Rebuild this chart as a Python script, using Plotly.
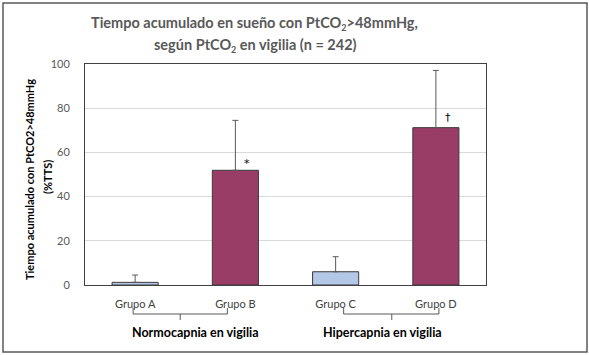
import plotly.graph_objects as go

categories = ["Grupo A", "Grupo B", "Grupo C", "Grupo D"]
means = [1.2, 51.9, 6.0, 71.2]
sd_up = [3.3, 22.6, 6.8, 25.9]
colors = ["#B4C7E7", "#993D66", "#B4C7E7", "#993D66"]
groups = ["Normocapnia en vigilia", "Hipercapnia en vigilia"]
sig_marks = [("Grupo B", "*", 55.0), ("Grupo D", "†", 76.0)]
y_ticks = [0, 20, 40, 60, 80, 100]

FONT = "Lato"

fig = go.Figure()
fig.add_trace(go.Bar(
    x=list(range(len(categories))), y=means,
    marker=dict(color=colors, line=dict(color="#3A3A3A", width=1)),
    error_y=dict(type="data", symmetric=False, array=sd_up,
                 arrayminus=[0] * len(means), color="#595959",
                 thickness=1, width=3),
    width=0.46, showlegend=False, hoverinfo="skip",
))

W, H = 589, 355
L, R, T, B = 85, 103, 64, 70

fig.update_layout(
    width=W, height=H,
    margin=dict(l=L, r=R, t=T, b=B),
    paper_bgcolor="white", plot_bgcolor="white",
    font=dict(family=FONT, color="#404040"),
    xaxis=dict(
        range=[-0.5, 3.5], tickmode="array",
        tickvals=list(range(len(categories))), ticktext=categories,
        showline=True, linecolor="#404040", linewidth=1, mirror=True,
        showgrid=False, ticks="", tickfont=dict(size=11, color="#404040"),
        ticklabelstandoff=9, fixedrange=True,
    ),
    yaxis=dict(
        range=[0, 100], tickmode="array", tickvals=y_ticks,
        showline=True, linecolor="#404040", linewidth=1, mirror=True,
        showgrid=True, gridcolor="#D9D9D9", gridwidth=1, zeroline=False,
        ticks="", tickfont=dict(size=11, color="#595959"),
        ticklabelstandoff=12, fixedrange=True,
    ),
)

# outer chart border
fig.add_shape(type="rect", xref="paper", yref="paper",
              x0=(3 - L) / (W - L - R), x1=(587 - L) / (W - L - R),
              y0=(H - B - 352) / (H - T - B), y1=(H - B - 3) / (H - T - B),
              line=dict(color="#595959", width=1.5), layer="below")

ph = H - T - B
def py(pix):
    return (H - B - pix) / ph

SUB2 = "<sub><span style='font-size:9px'>2</span></sub>"

# title
fig.add_annotation(text="<b>Tiempo acumulado en sueño con PtCO" + SUB2 + ">48mmHg,</b>",
                   xref="paper", yref="paper", x=(254 - L) / (W - L - R), y=py(23),
                   showarrow=False, font=dict(size=14.5, color="#595959", family=FONT),
                   xanchor="center", yanchor="middle")
fig.add_annotation(text="<b>según PtCO" + SUB2 + " en vigilia (n = 242)</b>",
                   xref="paper", yref="paper", x=(255 - L) / (W - L - R), y=py(45),
                   showarrow=False, font=dict(size=14.5, color="#595959", family=FONT),
                   xanchor="center", yanchor="middle")

# y-axis title (two lines)
fig.add_annotation(text="<b>Tiempo acumulado con PtCO2>48mmHg</b>", textangle=-90,
                   xref="paper", yref="paper", x=(29 - L) / (W - L - R), y=py(180),
                   showarrow=False, font=dict(size=11, color="#000000", family=FONT),
                   xanchor="center", yanchor="middle")
fig.add_annotation(text="<b>(%TTS)</b>", textangle=-90,
                   xref="paper", yref="paper", x=(47 - L) / (W - L - R), y=py(177),
                   showarrow=False, font=dict(size=11, color="#000000", family=FONT),
                   xanchor="center", yanchor="middle")

# significance marks
for cat, sym, yv in sig_marks:
    i = categories.index(cat)
    fig.add_annotation(text=sym, x=i + 0.12, y=yv, xref="x", yref="y",
                       showarrow=False,
                       font=dict(size=11, color="#000000", family="DejaVu Sans"))

# group brackets
brackets = [(-0.02, 0.92, 0.45), (2.08, 3.03, 2.56)]
label_x = [0.6, 2.47]
for (bx0, bx1, bc), label, lx in zip(brackets, groups, label_x):
    for s in [
        dict(x0=bx0, x1=bx0, y0=py(308), y1=py(314)),
        dict(x0=bx1, x1=bx1, y0=py(308), y1=py(314)),
        dict(x0=bx0, x1=bx1, y0=py(314), y1=py(314)),
        dict(x0=bc, x1=bc, y0=py(314), y1=py(320)),
    ]:
        fig.add_shape(type="line", xref="x", yref="paper",
                      line=dict(color="#595959", width=1), **s)
    fig.add_annotation(text="<b>" + label + "</b>", x=lx,
                       xref="x", yref="paper", y=py(332), showarrow=False,
                       font=dict(size=12.5, color="#000000", family=FONT),
                       xanchor="center", yanchor="middle")

fig.write_html("out.html", config={"displayModeBar": False},
               post_script="document.body.style.margin='0';document.body.style.overflow='hidden';")
